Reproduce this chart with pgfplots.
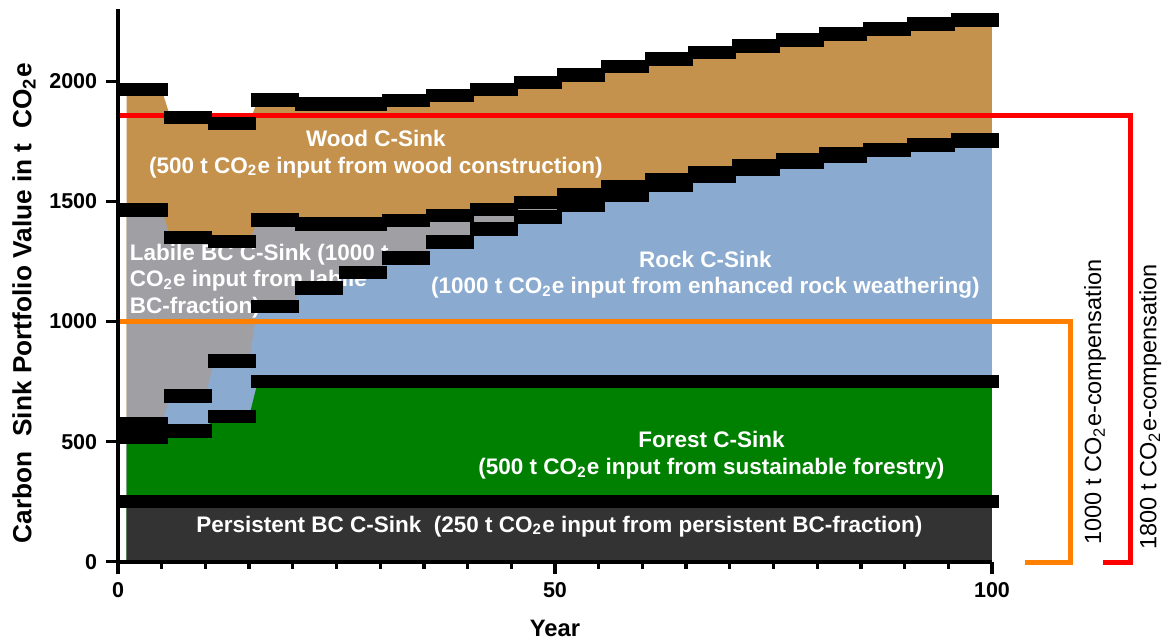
\documentclass[border=0pt]{standalone}
\usepackage{fontspec}
\setmainfont{Liberation Sans}
\usepackage{pgfplots}
\usepackage{pgfplotstable}
\pgfplotsset{compat=1.18}

\definecolor{woodc}{RGB}{196,146,77}
\definecolor{labc}{RGB}{160,159,163}
\definecolor{rockc}{RGB}{138,170,208}
\definecolor{forc}{RGB}{0,128,0}
\definecolor{perc}{RGB}{51,51,51}
\definecolor{orc}{RGB}{255,128,0}

\pgfdeclareplotmark{hbar}{\pgfpathrectangle{\pgfqpoint{-9.6pt}{-2.7pt}}{\pgfqpoint{19.2pt}{5.4pt}}\pgfusepathqfill}

% stacked cumulative tops: P persistent, F forest, R rock, L labile, W wood
\pgfplotstableread{
x P F R L W
1 250 520 575 1465 1965
5 250 520 575 1465 1965
6 250 545 690 1350 1850
10 250 545 690 1350 1850
11 250 605 835 1333 1825
15 250 605 835 1333 1825
16 250 750 1062 1423 1923
20 250 750 1062 1423 1923
21 250 750 1140 1405 1905
25 250 750 1140 1405 1905
26 250 750 1205 1405 1905
30 250 750 1205 1405 1905
31 250 750 1265 1420 1920
35 250 750 1265 1420 1920
36 250 750 1332 1441 1941
40 250 750 1332 1441 1941
41 250 750 1385 1466 1966
45 250 750 1385 1466 1966
46 250 750 1435 1496 1996
50 250 750 1435 1496 1996
51 250 750 1482 1527 2027
55 250 750 1482 1527 2027
56 250 750 1525 1561 2061
60 250 750 1525 1561 2061
61 250 750 1566 1592 2092
65 250 750 1566 1592 2092
66 250 750 1604 1620 2120
70 250 750 1604 1620 2120
71 250 750 1636 1647 2147
75 250 750 1636 1647 2147
76 250 750 1663 1672 2172
80 250 750 1663 1672 2172
81 250 750 1690 1697 2197
85 250 750 1690 1697 2197
86 250 750 1711 1717 2217
90 250 750 1711 1717 2217
91 250 750 1732 1738 2238
95 250 750 1732 1738 2238
96 250 750 1751 1756 2256
100 250 750 1751 1756 2256
}\stairs

\pgfplotstableread{
c P F R L W
3 250 520 575 1465 1965
8 250 545 690 1350 1850
13 250 605 835 1333 1825
18 250 750 1062 1423 1923
23 250 750 1140 1405 1905
28 250 750 1205 1405 1905
33 250 750 1265 1420 1920
38 250 750 1332 1441 1941
43 250 750 1385 1466 1966
48 250 750 1435 1496 1996
53 250 750 1482 1527 2027
58 250 750 1525 1561 2061
63 250 750 1566 1592 2092
68 250 750 1604 1620 2120
73 250 750 1636 1647 2147
78 250 750 1663 1672 2172
83 250 750 1690 1697 2197
88 250 750 1711 1717 2217
93 250 750 1732 1738 2238
98 250 750 1751 1756 2256
}\marks

\begin{document}
\begin{tikzpicture}
\begin{axis}[
  scale only axis, width=349.6pt, height=221pt,
  xmin=0, xmax=100, ymin=0, ymax=2300,
  axis x line=bottom, axis y line=left,
  axis line style={-, line width=1.6pt},
  xtick={0,50,100}, minor xtick={5,10,...,95},
  ytick={0,500,1000,1500,2000},
  tick align=outside,
  major tick length=4.8pt, minor tick length=2.8pt,
  every tick/.style={black, line width=1.3pt},
  /pgf/number format/assume math mode=true,
  /pgf/number format/1000 sep={},
  ticklabel style={font=\fontsize{8.6}{10}\selectfont\bfseries},
  xlabel={Year},
  xlabel style={font=\fontsize{9.5}{11}\selectfont\bfseries, at={(axis description cs:0.5,-0.12)}, anchor=center},
  ylabel={Carbon\ \ Sink Portfolio Value in t\ \ CO\textsubscript{2}e},
  ylabel style={font=\fontsize{10.5}{12}\selectfont\bfseries, at={(axis description cs:-0.1076,0.468)}, anchor=center},
  clip=false,
  axis on top,
]
\addplot[fill=woodc, draw=none] table[x=x,y=W] {\stairs} \closedcycle;
\addplot[fill=labc, draw=none] table[x=x,y=L] {\stairs} \closedcycle;
\addplot[fill=rockc, draw=none] table[x=x,y=R] {\stairs} \closedcycle;
\addplot[fill=forc, draw=none] table[x=x,y=F] {\stairs} \closedcycle;
\addplot[fill=perc, draw=none] table[x=x,y=P] {\stairs} \closedcycle;

\addplot[only marks, mark=hbar, black] table[x=c,y=P] {\marks};
\addplot[only marks, mark=hbar, black] table[x=c,y=F] {\marks};
\addplot[only marks, mark=hbar, black] table[x=c,y=R] {\marks};
\addplot[only marks, mark=hbar, black] table[x=c,y=L] {\marks};
\addplot[only marks, mark=hbar, black] table[x=c,y=W] {\marks};

\node[text=white, align=center, font=\fontsize{9}{10.6}\selectfont\bfseries] at (axis cs:29.5,1697) {Wood C-Sink\\(500 t CO\textsubscript{2}e input from wood construction)};
\node[text=white, align=left, anchor=west, inner sep=0pt, font=\fontsize{9}{10.6}\selectfont\bfseries] at (axis cs:1.3,1170) {Labile BC C-Sink (1000 t\\CO\textsubscript{2}e input from labile\\BC-fraction)};
\node[text=white, align=center, font=\fontsize{9}{10.6}\selectfont\bfseries] at (axis cs:67.2,1195) {Rock C-Sink\\(1000 t CO\textsubscript{2}e input from enhanced rock weathering)};
\node[text=white, align=center, font=\fontsize{9}{10.6}\selectfont\bfseries] at (axis cs:67.9,443) {Forest C-Sink\\(500 t CO\textsubscript{2}e input from sustainable forestry)};
\node[text=white, align=center, font=\fontsize{9}{10.6}\selectfont\bfseries] at (axis cs:50.5,148) {Persistent BC C-Sink\ \ (250 t CO\textsubscript{2}e input from persistent BC-fraction)};

\addplot[red, line width=2pt, line join=miter] coordinates {(0,1858) (115.8,1858) (115.8,-5) (112.7,-5)};
\addplot[orc, line width=2pt, line join=miter] coordinates {(0,1000) (109.0,1000) (109.0,-5) (103.8,-5)};

\node[rotate=90, anchor=west, font=\fontsize{9.4}{11}\selectfont] at (axis cs:111.8,36) {1000 t CO\textsubscript{2}e-compensation};
\node[rotate=90, anchor=west, font=\fontsize{9.4}{11}\selectfont] at (axis cs:118.1,15) {1800 t CO\textsubscript{2}e-compensation};
\end{axis}
\pgfresetboundingbox
\path (-47.2pt,-32.5pt) rectangle (419.6pt,224.7pt);
\end{tikzpicture}
\end{document}
